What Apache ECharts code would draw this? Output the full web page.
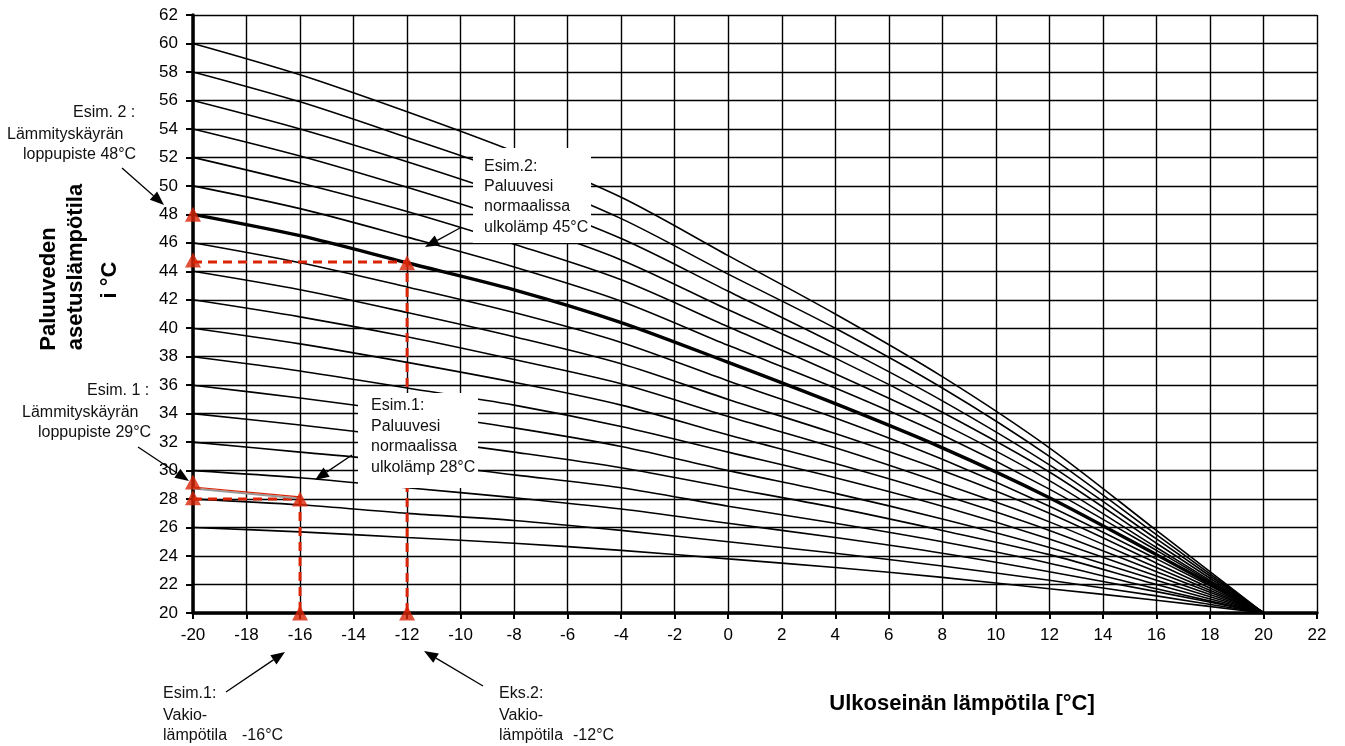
<!DOCTYPE html>
<html>
<head>
<meta charset="utf-8">
<title>Paluuveden asetuslämpötila</title>
<script src="https://cdn.jsdelivr.net/npm/echarts@6/dist/echarts.min.js"></script>
<style>
  html, body { margin: 0; padding: 0; background: #fff; }
  #chart { width: 1345px; height: 746px; }
</style>
</head>
<body>
<div id="chart"></div>
<script>
// ulkolämpötilat, joissa käyrät on luettu
const outdoorTemps = [-20, -16, -12, -8, -4, 0, 4, 8, 12, 16, 20]
// käyrien loppupisteet (-20 °C)
const curveEnds = [26, 28, 30, 32, 34, 36, 38, 40, 42, 44, 46, 48, 50, 52, 54, 56, 58, 60]
// käyrien arvot, yksi rivi per käyrä
const curveValues = [
  [26, 25.7, 25.3, 24.9, 24.4, 23.8, 23.2, 22.5, 21.7, 20.9, 20],
  [28, 27.6, 27.0, 26.5, 25.8, 25.0, 24.2, 23.3, 22.3, 21.2, 20],
  [30, 29.5, 28.8, 28.1, 27.3, 26.3, 25.3, 24.2, 22.9, 21.5, 20],
  [32, 31.3, 30.6, 29.7, 28.8, 27.5, 26.3, 25.0, 23.5, 21.7, 20],
  [34, 33.2, 32.3, 31.3, 30.2, 28.8, 27.4, 25.8, 24.1, 22.0, 20],
  [36, 35.1, 34.1, 33.0, 31.7, 30.0, 28.4, 26.6, 24.6, 22.3, 20],
  [38, 37.0, 35.8, 34.6, 33.1, 31.3, 29.5, 27.5, 25.2, 22.6, 20],
  [40, 38.9, 37.6, 36.2, 34.6, 32.5, 30.5, 28.3, 25.8, 22.9, 20],
  [42, 40.8, 39.4, 37.8, 36.1, 33.8, 31.6, 29.1, 26.4, 23.2, 20],
  [44, 42.7, 41.1, 39.4, 37.5, 35.0, 32.6, 30.0, 27.0, 23.5, 20],
  [46, 44.6, 42.9, 41.1, 39.0, 36.3, 33.7, 30.8, 27.5, 23.8, 20],
  [48, 46.5, 44.6, 42.7, 40.4, 37.6, 34.7, 31.6, 28.1, 24.1, 20],
  [50, 48.4, 46.4, 44.3, 41.9, 38.8, 35.8, 32.5, 28.7, 24.4, 20],
  [52, 50.2, 48.2, 45.9, 43.4, 40.1, 36.8, 33.3, 29.3, 24.6, 20],
  [54, 52.1, 49.9, 47.5, 44.8, 41.3, 37.9, 34.1, 29.9, 24.9, 20],
  [56, 54.0, 51.7, 49.2, 46.3, 42.6, 38.9, 34.9, 30.4, 25.2, 20],
  [58, 55.9, 53.4, 50.8, 47.7, 43.8, 40.0, 35.8, 31.0, 25.5, 20],
  [60, 57.8, 55.2, 52.4, 49.2, 45.1, 41.0, 36.6, 31.6, 25.8, 20]
]
const selectedCurve = 48

// esimerkkien apuviivat ja merkit
const example2Guide = [[-20, 44.65], [-12, 44.65], [-12, 20]]
const example1Guide = [[-20, 28], [-16, 28], [-16, 20]]
const example1SlopeGrey = [[-20, 28.75], [-16, 28.05]]
const example1SlopeRed = [[-20, 28.85], [-16, 28.15]]
const markerPoints = [
  [-20, 48], [-20, 44.8], [-12, 44.6], [-12, 20],
  [-16, 20], [-16, 28], [-20, 28.1], [-20, 29.2]
]

const FONT = '"Liberation Sans", Arial, sans-serif'
const RED = '#da2406'

const chart = echarts.init(document.getElementById('chart'))

// nuoli: viiva + kärki
const arrow = (x1, y1, x2, y2) => {
  const ang = Math.atan2(y2 - y1, x2 - x1)
  const len = 14, half = 5.5
  const bx = x2 - len * Math.cos(ang), by = y2 - len * Math.sin(ang)
  const px = -Math.sin(ang) * half, py = Math.cos(ang) * half
  return [
    { type: 'line', z: 110, shape: { x1, y1, x2: bx, y2: by }, style: { stroke: '#000', lineWidth: 1.3 } },
    { type: 'polygon', z: 110, shape: { points: [[x2, y2], [bx + px, by + py], [bx - px, by - py]] }, style: { fill: '#000' } }
  ]
}

const txt = (x, y, text, extra = {}) => ({
  type: 'text', z: 111, x, y,
  style: Object.assign({ text, fill: '#111', font: '16px ' + FONT, textVerticalAlign: 'middle' }, extra)
})

const box = (x, y, w, h) => ({ type: 'rect', z: 105, shape: { x, y, width: w, height: h }, style: { fill: '#fff' } })

const series = curveValues.map((vals, i) => ({
  name: 'Käyrä ' + curveEnds[i],
  type: 'line',
  data: outdoorTemps.map((t, j) => [t, vals[j]]),
  smooth: 0.3,
  symbol: 'none',
  silent: true,
  lineStyle: { color: '#000', width: curveEnds[i] === selectedCurve ? 3.4 : 1.6 },
  z: curveEnds[i] === selectedCurve ? 4 : 3
}))

series.push(
  { type: 'line', data: example2Guide, symbol: 'none', z: 6, lineStyle: { color: RED, width: 3, type: [9, 6] } },
  { type: 'line', data: example1Guide, symbol: 'none', z: 6, lineStyle: { color: RED, width: 3, type: [9, 6] } },
  { type: 'line', data: example1SlopeGrey, symbol: 'none', z: 6, lineStyle: { color: '#999', width: 2 } },
  { type: 'line', data: example1SlopeRed, symbol: 'none', z: 7, lineStyle: { color: RED, width: 1.2 } },
  {
    type: 'scatter', data: markerPoints, symbol: 'triangle', symbolSize: [16, 15], z: 8,
    itemStyle: { color: RED }
  }
)

const graphics = [
  // Esim. 2 vasen
  txt(73, 113, 'Esim. 2 :'),
  txt(7, 135, 'Lämmityskäyrän'),
  txt(23, 155, 'loppupiste 48°C'),
  ...arrow(122, 168, 164, 205),
  // Esim. 1 vasen
  txt(87, 391, 'Esim. 1 :'),
  txt(22, 413, 'Lämmityskäyrän'),
  txt(38, 433, 'loppupiste 29°C'),
  ...arrow(138, 447, 189, 481),
  // Esim.2 laatikko
  box(473, 148, 118, 95),
  txt(484, 167, 'Esim.2:'),
  txt(484, 187, 'Paluuvesi'),
  txt(484, 207, 'normaalissa'),
  txt(484, 228, 'ulkolämp 45°C'),
  ...arrow(460, 228, 425, 247),
  // Esim.1 laatikko
  box(358, 393, 120, 95),
  txt(371, 406, 'Esim.1:'),
  txt(371, 427, 'Paluuvesi'),
  txt(371, 447, 'normaalissa'),
  txt(371, 468, 'ulkolämp 28°C'),
  ...arrow(352, 455, 315, 480),
  // alareunan selitteet
  txt(163, 694, 'Esim.1:'),
  txt(163, 716, 'Vakio-'),
  txt(163, 736, 'lämpötila'),
  txt(242, 736, '-16°C'),
  ...arrow(226, 692, 285, 652),
  txt(499, 694, 'Eks.2:'),
  txt(499, 716, 'Vakio-'),
  txt(499, 736, 'lämpötila'),
  txt(573, 736, '-12°C'),
  ...arrow(483, 686, 424, 651),
  // akselien otsikot
  txt(962, 704, 'Ulkoseinän lämpötila [°C]', { font: 'bold 22px ' + FONT, textAlign: 'center', fill: '#000' }),
  { type: 'text', z: 111, x: 48.5, y: 289, rotation: Math.PI / 2,
    style: { text: 'Paluuveden', font: 'bold 22px ' + FONT, fill: '#000', textAlign: 'center', textVerticalAlign: 'middle' } },
  { type: 'text', z: 111, x: 76, y: 267, rotation: Math.PI / 2,
    style: { text: 'asetuslämpötila', font: 'bold 22px ' + FONT, fill: '#000', textAlign: 'center', textVerticalAlign: 'middle' } },
  { type: 'text', z: 111, x: 110, y: 280, rotation: Math.PI / 2,
    style: { text: 'i °C', font: 'bold 22px ' + FONT, fill: '#000', textAlign: 'center', textVerticalAlign: 'middle' } }
]

const option = {
  animation: false,
  backgroundColor: '#fff',
  grid: { left: 193, right: 28, top: 15, bottom: 133 },
  xAxis: {
    type: 'value',
    min: -20,
    max: 22,
    interval: 2,
    axisLine: { show: true, onZero: false, lineStyle: { color: '#000', width: 3.5 } },
    axisTick: { show: true, length: 6, lineStyle: { color: '#000', width: 2 } },
    axisLabel: { color: '#000', fontSize: 17, fontFamily: FONT, margin: 14 },
    splitLine: { show: true, lineStyle: { color: '#000', width: 1.4 } }
  },
  yAxis: {
    type: 'value',
    min: 20,
    max: 62,
    interval: 2,
    axisLine: { show: true, onZero: false, lineStyle: { color: '#000', width: 3.5 } },
    axisTick: { show: true, length: 7, lineStyle: { color: '#000', width: 2 } },
    axisLabel: { color: '#000', fontSize: 17, fontFamily: FONT, margin: 15 },
    splitLine: { show: true, lineStyle: { color: '#000', width: 1.4 } }
  },
  series: series,
  graphic: graphics
}

chart.setOption(option)
</script>
</body>
</html>
